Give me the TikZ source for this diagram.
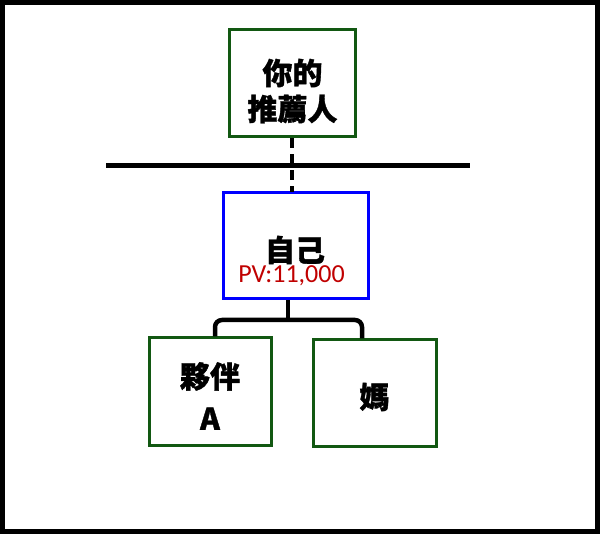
\documentclass[tikz,border=0pt]{standalone}
\usepackage{fontspec}
\newfontfamily\cjkfont{Noto Sans CJK TC Black}[AutoFakeBold=1.2]
\newfontfamily\pvfont{Carlito}
\definecolor{boxgreen}{RGB}{18,88,18}
\definecolor{pvred}{RGB}{192,0,0}
\definecolor{boxblue}{RGB}{0,0,255}
\begin{document}
\begin{tikzpicture}[x=1pt,y=-1pt,
  gbox/.style={draw=boxgreen,line width=3pt,rectangle,inner sep=0pt},
  bbox/.style={draw=boxblue,line width=3pt,rectangle,inner sep=0pt},
  lbl/.style={font=\cjkfont\bfseries\fontsize{30}{36}\selectfont,align=center,inner sep=0pt},
  conn/.style={line width=4.5pt}]
\useasboundingbox (0,0) rectangle (600,534);
\draw[line width=5pt] (2.5,2.5) rectangle (597.5,531.5);
% boxes
\node[gbox,minimum width=126pt,minimum height=107pt] (rec) at (292.5,83.5) {};
\node[lbl] (recT) at (292.5,91) {你的\\推薦人};
\node[bbox,minimum width=145pt,minimum height=106pt] (self) at (295.5,246) {};
\node[lbl] (selfT) at (295,250) {自己};
\node[font=\pvfont\fontsize{26}{30}\selectfont,text=pvred,inner sep=0pt] (pv) at (291.5,276) {PV:11,000};
\node[gbox,minimum width=122pt,minimum height=108pt] (pa) at (210,392) {};
\node[lbl,font=\cjkfont\bfseries\fontsize{30}{42}\selectfont] (paT) at (210,396) {夥伴\\A};
\node[gbox,minimum width=123pt,minimum height=107pt] (ma) at (374.5,393.5) {};
\node[lbl] (maT) at (374.5,397) {媽};
% horizontal line
\coordinate (hl) at (106,165.5);
\coordinate (hr) at (470,165.5);
\draw[line width=5pt] (hl) -- (hr);
% dashed connector
\draw[line width=4.5pt,dash pattern=on 10pt off 6pt] (292,138.5) -- (292,192);
% bracket
\coordinate (stemtop) at (288,300);
\coordinate (stembot) at (288,320);
\draw[conn] (stemtop) -- (stembot);
\draw[conn,rounded corners=7pt] (pa.north -| 215,0) -- (215,320) -- (362,320) -- (ma.north -| 362,0);
\end{tikzpicture}
\end{document}
